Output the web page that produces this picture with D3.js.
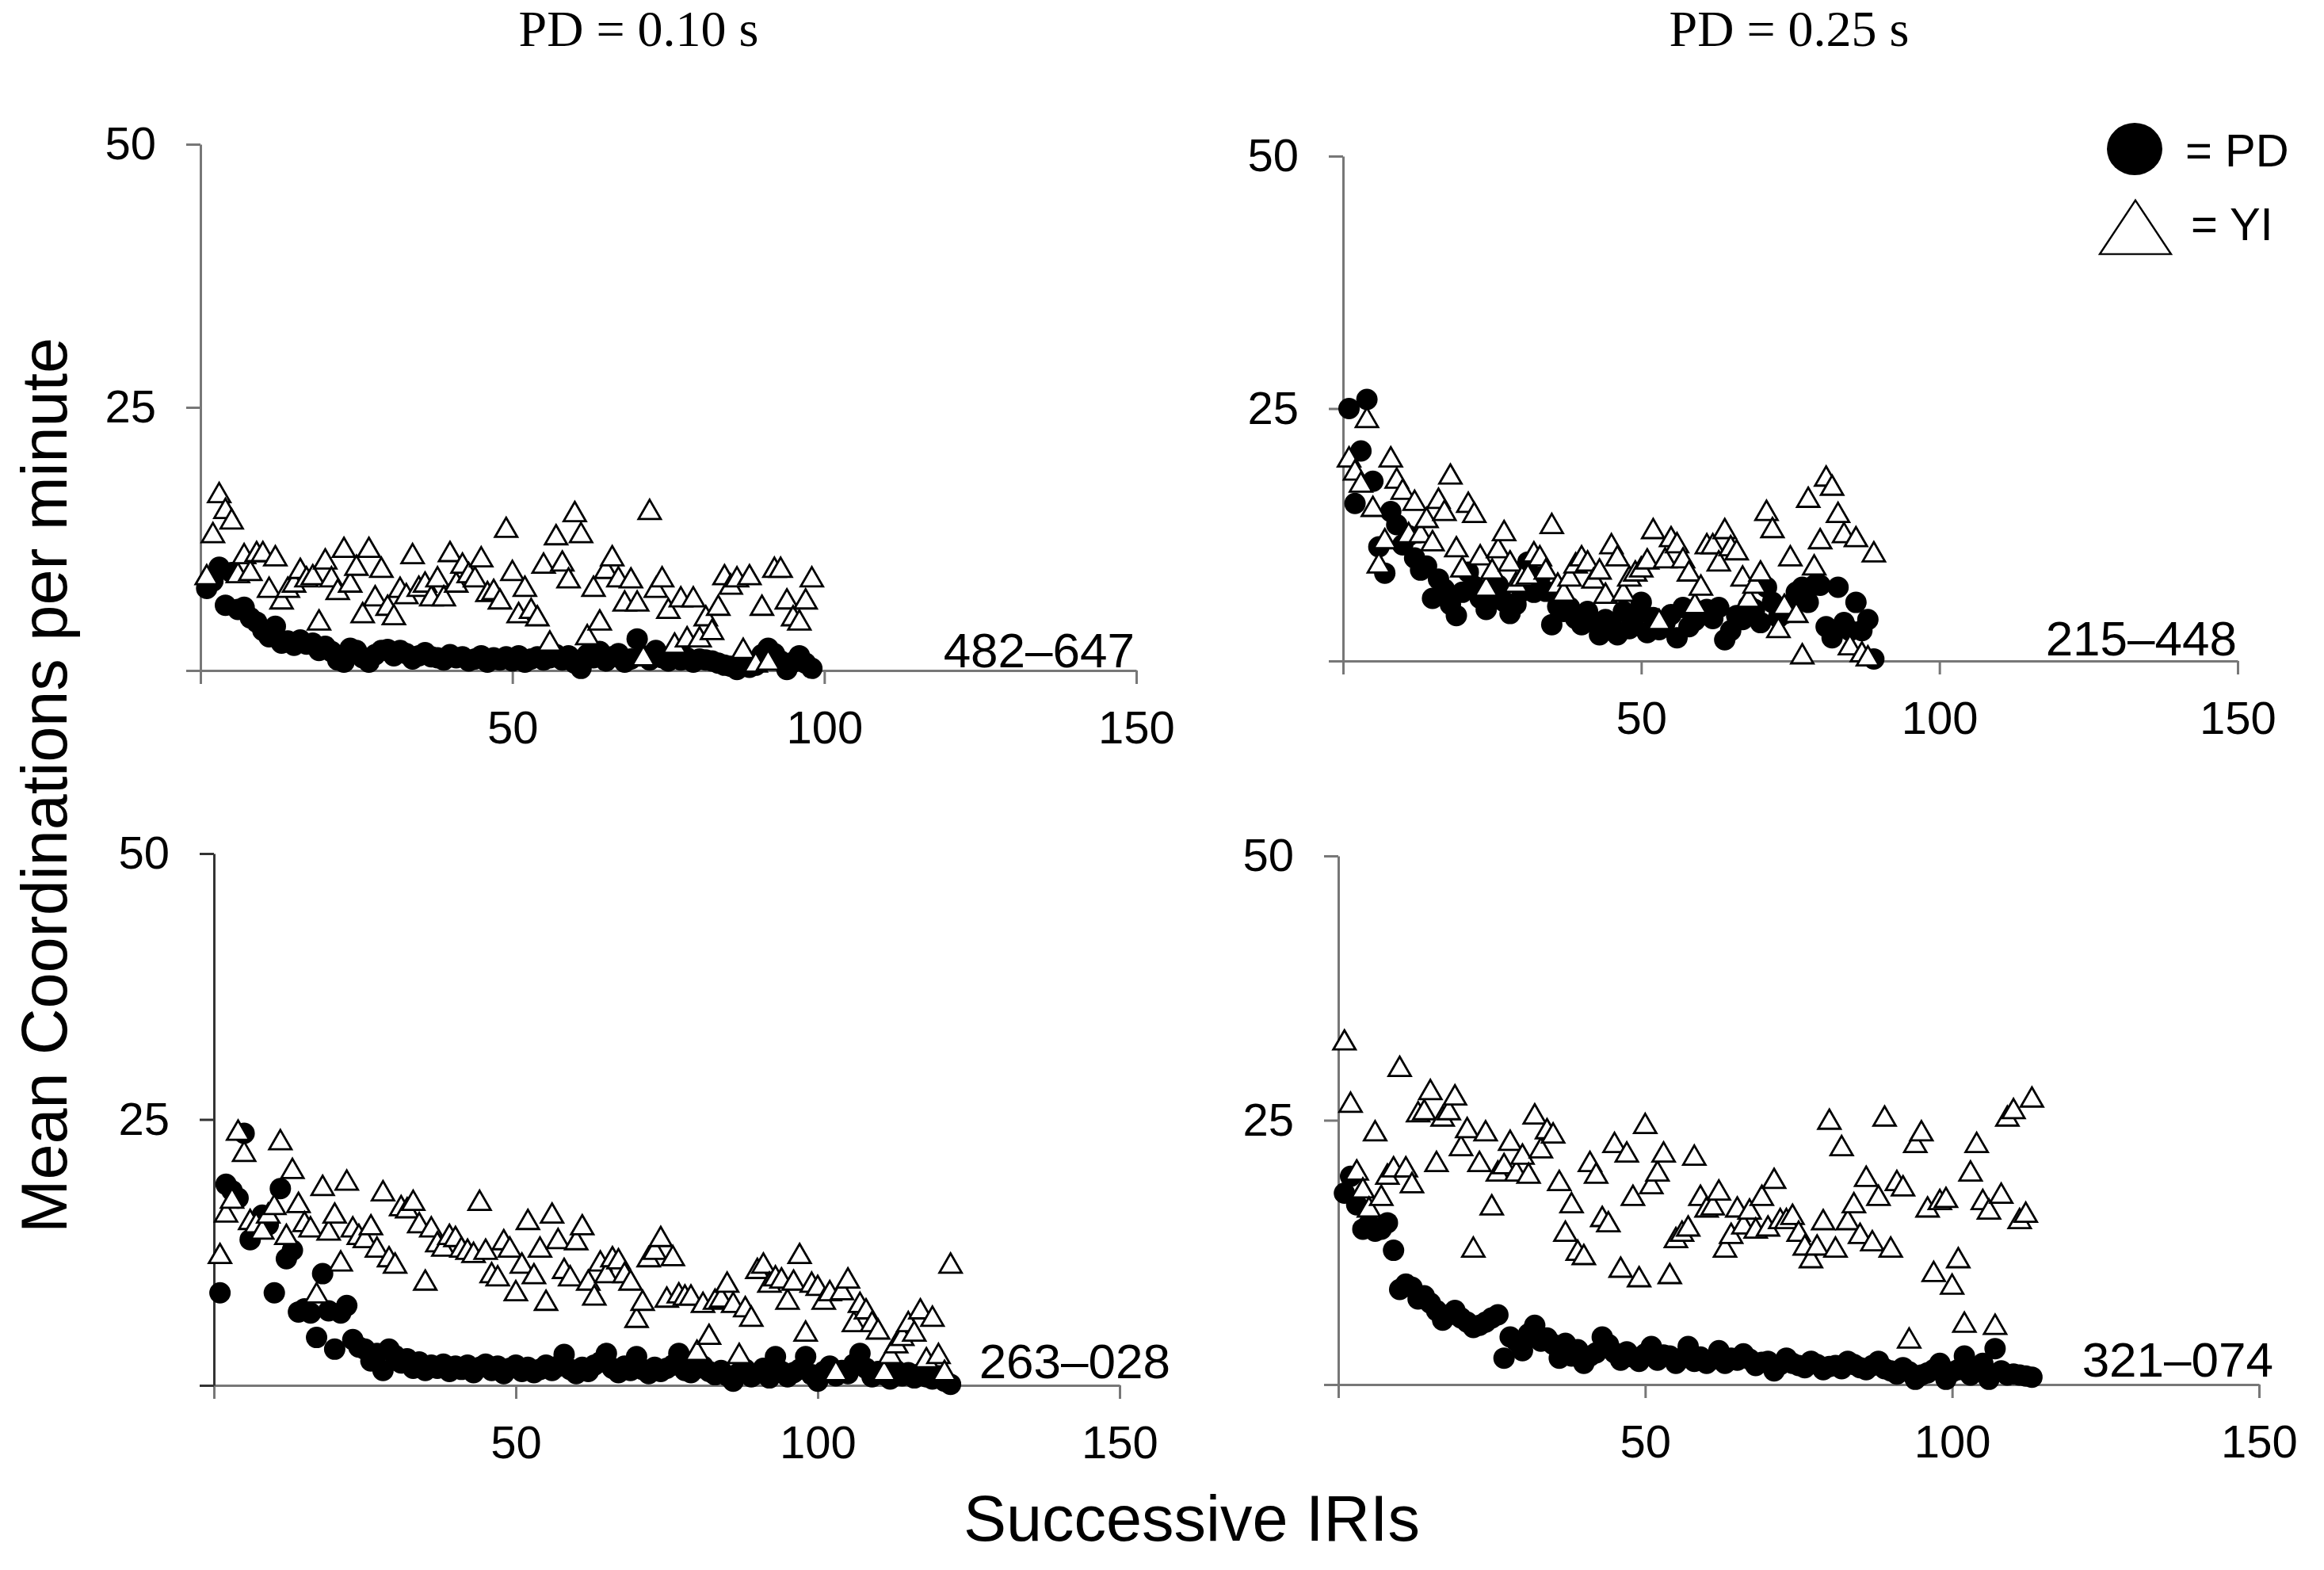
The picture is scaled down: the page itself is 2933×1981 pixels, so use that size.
<!DOCTYPE html>
<html>
<head>
<meta charset="utf-8">
<script src="https://cdn.jsdelivr.net/npm/d3@7"></script>
<style>
  body { margin: 0; background: #fff; }
</style>
</head>
<body>
<script>
// ---- values ----
const xTickValues = [0, 50, 100, 150];
const yTickValues = [0, 25, 50];
const columnTitles = ["PD = 0.10 s", "PD = 0.25 s"];
const subjects = ["482–647", "215–448", "263–028", "321–074"];
const legendLabels = ["= PD", "= YI"];

// subject 482–647, PD = 0.10 s
const pd482 = [7.8, 8.5, 9.8, 6.2, 9.3, 5.8, 6.0, 5.0, 4.6, 3.8,
  3.2, 4.2, 2.6, 2.8, 2.4, 2.9, 2.5, 2.6, 1.9, 2.3,
  1.8, 1.0, 0.8, 2.1, 1.9, 1.2, 0.8, 1.5, 1.9, 2.0,
  1.4, 1.9, 1.6, 1.1, 1.4, 1.7, 1.3, 1.2, 1.0, 1.5,
  1.2, 1.3, 0.9, 1.1, 1.4, 0.8, 1.2, 1.0, 1.3, 0.9,
  1.4, 0.8, 1.1, 1.3, 1.0, 1.2, 1.5, 1.0, 1.4, 0.7,
  0.2, 1.5, 1.2, 1.8, 0.9, 1.3, 1.6, 0.8, 1.1, 3.0,
  1.4, 1.0, 1.9, 1.2, 0.9, 1.3, 1.0, 1.2, 0.8, 1.1,
  1.0, 0.9, 0.7, 0.5, 0.4, 0.1, 0.6, 0.3, 0.5, 1.5,
  2.1, 1.6, 0.9, 0.1, 0.8, 1.4, 0.7, 0.2];
const yi482 = [8.8, 12.8, 16.6, 15.1, 14.1, 9.0, 10.8, 9.2, 11.0, 11.0,
  7.6, 10.6, 6.5, 7.6, 8.1, 9.4, 8.6, 8.8, 4.5, 10.3,
  8.6, 7.4, 11.4, 8.1, 9.7, 5.2, 11.4, 6.8, 9.5, 5.9,
  5.0, 7.6, 7.0, 10.8, 7.7, 8.1, 6.8, 8.6, 6.8, 11.0,
  8.1, 9.9, 9.0, 8.6, 10.5, 7.2, 7.4, 6.5, 13.3, 9.2,
  5.2, 7.7, 5.6, 4.9, 9.9, 2.5, 12.6, 10.1, 8.5, 14.8,
  12.8, 3.1, 7.7, 4.5, 9.4, 10.6, 8.6, 6.3, 8.5, 6.3,
  1.1, 15.0, 7.6, 8.6, 5.6, 2.3, 6.7, 2.9, 6.7, 2.9,
  4.9, 3.6, 5.9, 8.8, 7.9, 8.6, 1.8, 8.8, 0.5, 5.9,
  0.7, 9.5, 9.5, 6.5, 4.9, 4.5, 6.5, 8.6];

// subject 215–448, PD = 0.25 s
const pd215 = [25.0, 15.6, 20.8, 25.9, 17.8, 11.3, 8.7, 14.8, 13.5, 11.5,
  12.4, 10.2, 9.0, 9.4, 6.2, 8.1, 7.1, 5.6, 4.5, 6.8,
  8.8, 7.4, 6.2, 5.1, 6.6, 7.5, 5.9, 4.7, 5.6, 6.9,
  9.8, 6.8, 8.3, 6.9, 3.6, 5.4, 4.9, 5.3, 4.2, 3.6,
  4.9, 3.9, 2.6, 4.1, 3.5, 2.6, 4.9, 3.2, 4.4, 5.8,
  2.8, 4.3, 3.1, 3.8, 4.6, 2.3, 5.3, 3.4, 4.0, 4.9,
  5.1, 4.2, 5.3, 2.1, 3.0, 4.5, 4.1, 5.5, 5.1, 3.8,
  7.3, 5.8, 4.3, 4.7, 5.6, 6.8, 7.3, 5.8, 7.5, 7.5,
  3.4, 2.3, 7.3, 3.8, 3.0, 5.8, 3.0, 4.1, 0.2];
const yi215 = [19.9, 18.6, 17.4, 23.8, 15.0, 9.4, 11.8, 19.9, 17.8, 16.7,
  12.4, 15.6, 12.4, 13.9, 11.6, 15.8, 14.6, 18.2, 11.0, 9.0,
  15.4, 14.4, 10.2, 7.1, 8.8, 10.9, 12.6, 9.6, 7.5, 8.1,
  8.3, 10.5, 10.1, 8.8, 13.3, 7.4, 6.6, 8.1, 9.4, 10.1,
  9.6, 7.9, 8.8, 6.4, 11.3, 10.1, 6.6, 8.1, 8.6, 9.0,
  9.8, 12.8, 3.8, 9.9, 12.0, 11.4, 9.9, 8.6, 5.4, 7.2,
  11.3, 11.3, 9.6, 12.8, 11.1, 10.7, 8.1, 6.0, 7.4, 8.6,
  14.6, 12.9, 3.0, 5.3, 10.1, 4.5, 0.4, 15.9, 9.2, 11.8,
  18.0, 17.1, 14.4, 12.4, 1.3, 12.0, 0.6, 0.2, 10.5];

// subject 263–028, PD = 0.10 s
const pd263 = [8.7, 18.9, 18.3, 17.6, 23.7, 13.7, 14.8, 16.0, 15.1, 8.7,
  18.5, 11.9, 12.7, 6.9, 7.2, 6.8, 4.5, 10.5, 7.0, 3.4,
  6.8, 7.5, 4.3, 3.6, 3.4, 2.3, 3.0, 1.4, 3.4, 2.8,
  2.1, 2.5, 1.6, 2.2, 1.4, 1.9, 1.6, 2.0, 1.3, 1.8,
  1.5, 1.9, 1.2, 1.7, 2.0, 1.4, 1.8, 1.1, 1.6, 1.9,
  1.3, 1.7, 1.2, 1.5, 1.9, 1.4, 1.8, 2.9, 1.5, 1.1,
  1.7, 1.3, 1.9, 2.2, 3.0, 1.6, 1.2, 1.8, 1.4, 2.7,
  1.5, 1.1, 1.7, 1.3, 1.6, 1.9, 3.0, 1.4, 1.2, 1.6,
  1.8, 1.3, 1.0, 1.4, 0.9, 0.4, 1.2, 1.5, 0.8, 1.1,
  1.6, 0.7, 2.7, 1.3, 0.8, 1.2, 1.5, 2.7, 1.0, 0.4,
  1.3, 1.8, 0.9, 1.4, 1.1, 2.0, 3.0, 1.6, 0.8, 1.3,
  1.0, 0.6, 1.4, 0.9, 1.2, 0.7, 1.1, 0.8, 0.6, 0.9,
  0.4, 0.1];
const yi263 = [12.1, 16.0, 17.3, 23.7, 21.7, 15.3, 15.0, 14.4, 15.9, 16.7,
  22.8, 13.9, 20.1, 16.9, 15.1, 14.6, 8.4, 18.5, 14.3, 15.9,
  11.4, 19.0, 14.6, 13.9, 13.6, 14.8, 12.7, 18.0, 11.8, 11.2,
  16.6, 16.4, 17.1, 15.0, 9.6, 14.6, 13.2, 12.8, 13.9, 13.7,
  12.7, 12.5, 12.2, 17.1, 12.5, 10.3, 10.0, 13.4, 12.7, 8.6,
  11.2, 15.3, 10.2, 12.7, 7.7, 15.9, 13.5, 10.7, 10.0, 13.4,
  14.8, 9.6, 8.2, 11.4, 10.3, 11.8, 11.6, 10.3, 9.6, 6.1,
  7.7, 11.8, 12.5, 13.7, 8.0, 11.9, 8.4, 8.2, 8.2, 3.0,
  7.5, 4.5, 7.8, 8.0, 9.4, 7.5, 2.7, 7.1, 6.2, 10.7,
  11.2, 9.4, 10.0, 9.8, 7.8, 9.6, 12.1, 4.8, 9.4, 9.1,
  7.8, 8.6, 1.1, 8.7, 9.8, 5.7, 7.5, 6.9, 5.7, 5.0,
  1.1, 2.7, 3.7, 4.4, 5.7, 4.8, 6.9, 2.3, 6.2, 2.7,
  1.1, 11.2];

// subject 321–074, PD = 0.25 s
const pd321 = [18.1, 19.7, 17.0, 14.7, 15.2, 14.5, 14.7, 15.3, 12.7, 9.0,
  9.5, 9.2, 8.1, 8.4, 7.7, 7.0, 6.1, 6.6, 7.0, 6.3,
  5.9, 5.4, 5.6, 5.9, 6.3, 6.6, 2.5, 4.5, 4.1, 3.2,
  4.8, 5.6, 4.1, 4.4, 3.8, 2.5, 3.9, 2.7, 3.3, 2.0,
  2.7, 3.0, 4.5, 3.8, 3.0, 2.3, 3.1, 2.6, 2.2, 2.9,
  3.6, 2.3, 2.8, 2.7, 2.0, 2.5, 3.6, 2.2, 2.6, 2.0,
  2.4, 3.2, 2.0, 2.5, 2.3, 2.9, 2.4, 1.8, 2.1, 2.2,
  1.3, 1.9, 2.5, 2.0, 1.8, 1.6, 2.2, 1.9, 1.4, 1.7,
  1.8, 1.5, 2.2, 1.9, 1.6, 1.4, 1.8, 2.2, 1.5, 1.3,
  1.0, 1.6, 1.2, 0.5, 0.9, 1.1, 1.4, 2.0, 0.5, 1.2,
  1.4, 2.7, 0.9, 1.5, 2.0, 0.5, 3.4, 1.3, 0.9, 1.0,
  0.9, 0.8, 0.7];
const yi321 = [32.3, 26.4, 20.0, 18.3, 16.5, 23.7, 17.6, 19.6, 20.3, 29.8,
  20.3, 18.8, 25.5, 25.7, 27.6, 20.8, 25.1, 25.7, 27.1, 22.3,
  24.0, 12.7, 20.8, 23.7, 16.7, 19.9, 20.6, 22.8, 19.9, 21.5,
  19.7, 25.3, 22.1, 23.9, 23.5, 19.0, 14.2, 16.9, 12.4, 12.0,
  20.8, 19.7, 15.6, 15.1, 22.6, 10.8, 21.7, 17.6, 9.9, 24.4,
  18.7, 19.9, 21.7, 10.2, 13.6, 14.2, 14.7, 21.4, 17.6, 16.5,
  16.7, 18.1, 12.7, 14.0, 16.5, 14.9, 16.3, 14.5, 17.6, 14.7,
  19.2, 15.4, 15.4, 15.8, 14.2, 12.9, 11.7, 12.9, 15.3, 24.8,
  12.7, 22.3, 15.3, 16.9, 14.0, 19.4, 13.3, 17.6, 25.1, 12.7,
  19.0, 18.5, 4.1, 22.6, 23.7, 16.5, 10.4, 17.2, 17.4, 9.2,
  11.7, 5.6, 19.9, 22.6, 17.2, 16.3, 5.4, 17.8, 25.1, 25.8,
  15.4, 16.0, 26.9];

const seriesBySubject = [
  { pd: pd482, yi: yi482 },
  { pd: pd215, yi: yi215 },
  { pd: pd263, yi: yi263 },
  { pd: pd321, yi: yi321 }
];

// ---- layout ----
const W = 2933, H = 1981;
const panelLayout = [
  { x0: 253, x1: 1434, yTop: 182, yBot: 846, idRight: 1432, idBase: 842, yAxisColor: "#777" },
  { x0: 1695, x1: 2824, yTop: 197, yBot: 834, idRight: 2823, idBase: 827, yAxisColor: "#777" },
  { x0: 270, x1: 1413, yTop: 1077, yBot: 1748, idRight: 1477, idBase: 1739, yAxisColor: "#333" },
  { x0: 1689, x1: 2851, yTop: 1080, yBot: 1747, idRight: 2869, idBase: 1737, yAxisColor: "#777" }
];
const sans = "'Liberation Sans', Arial, sans-serif";
const serif = "'Liberation Serif', 'Times New Roman', serif";

const svg = d3.select("body")
  .append("svg")
  .attr("width", W)
  .attr("height", H);

const triangle = d3.symbol().type(d3.symbolTriangle).size(340);

subjects.forEach((id, k) => {
  const p = panelLayout[k];
  const s = seriesBySubject[k];

  const x = d3.scaleLinear().domain([0, 150]).range([p.x0, p.x1]);
  const y = d3.scaleLinear().domain([0, 50]).range([p.yBot, p.yTop]);

  const g = svg.append("g");

  // x axis
  const xAxis = g.append("g")
    .attr("transform", "translate(0," + p.yBot + ")")
    .call(d3.axisBottom(x)
      .tickValues(xTickValues)
      .tickSize(17)
      .tickSizeOuter(0)
      .tickPadding(34)
      .tickFormat((d) => (d === 0 ? "" : d)));
  xAxis.selectAll("path, line")
    .attr("stroke", "#777")
    .attr("stroke-width", 3);
  xAxis.selectAll("text")
    .attr("font-family", sans)
    .attr("font-size", 58)
    .attr("fill", "#000");

  // y axis
  const yAxis = g.append("g")
    .attr("transform", "translate(" + p.x0 + ",0)")
    .call(d3.axisLeft(y)
      .tickValues(yTickValues)
      .tickSize(18)
      .tickSizeOuter(0)
      .tickPadding(38)
      .tickFormat((d) => (d === 0 ? "" : d)));
  yAxis.selectAll("path, line")
    .attr("stroke", p.yAxisColor)
    .attr("stroke-width", 3);
  yAxis.selectAll("text")
    .attr("font-family", sans)
    .attr("font-size", 58)
    .attr("fill", "#000");

  // PD dots
  g.selectAll(".pd")
    .data(s.pd)
    .enter()
    .append("circle")
    .attr("class", "pd")
    .attr("cx", (d, i) => x(i + 1))
    .attr("cy", (d) => y(d))
    .attr("r", 13.5)
    .attr("fill", "#000");

  // YI triangles
  g.selectAll(".yi")
    .data(s.yi)
    .enter()
    .append("path")
    .attr("class", "yi")
    .attr("d", triangle)
    .attr("transform", (d, i) => "translate(" + x(i + 1) + "," + y(d) + ")")
    .attr("fill", "#fff")
    .attr("stroke", "#000")
    .attr("stroke-width", 2.8);

  // subject id
  g.append("text")
    .attr("x", p.idRight)
    .attr("y", p.idBase)
    .attr("text-anchor", "end")
    .attr("font-family", sans)
    .attr("font-size", 62)
    .text(id);
});

// column titles
const titleX = [806, 2258];
columnTitles.forEach((t, i) => {
  svg.append("text")
    .attr("x", titleX[i])
    .attr("y", 58)
    .attr("text-anchor", "middle")
    .attr("font-family", serif)
    .attr("font-size", 64)
    .text(t);
});

// axis titles
svg.append("text")
  .attr("transform", "translate(84,991) rotate(-90)")
  .attr("text-anchor", "middle")
  .attr("font-family", sans)
  .attr("font-size", 81)
  .text("Mean Coordinations per minute");

svg.append("text")
  .attr("x", 1504)
  .attr("y", 1944)
  .attr("text-anchor", "middle")
  .attr("font-family", sans)
  .attr("font-size", 81)
  .text("Successive IRIs");

// legend
const legend = svg.append("g");
legend.append("ellipse")
  .attr("cx", 2694)
  .attr("cy", 188)
  .attr("rx", 35)
  .attr("ry", 33)
  .attr("fill", "#000");
legend.append("path")
  .attr("d", d3.symbol().type(d3.symbolTriangle).size(3512))
  .attr("transform", "translate(2695,298) scale(1,0.87)")
  .attr("fill", "#fff")
  .attr("stroke", "#000")
  .attr("stroke-width", 2.5);
legend.selectAll(".leg-text")
  .data(legendLabels)
  .enter()
  .append("text")
  .attr("class", "leg-text")
  .attr("x", (d, i) => (i === 0 ? 2758 : 2765))
  .attr("y", (d, i) => (i === 0 ? 210 : 303))
  .attr("font-family", sans)
  .attr("font-size", 58)
  .text((d) => d);
</script>
</body>
</html>
